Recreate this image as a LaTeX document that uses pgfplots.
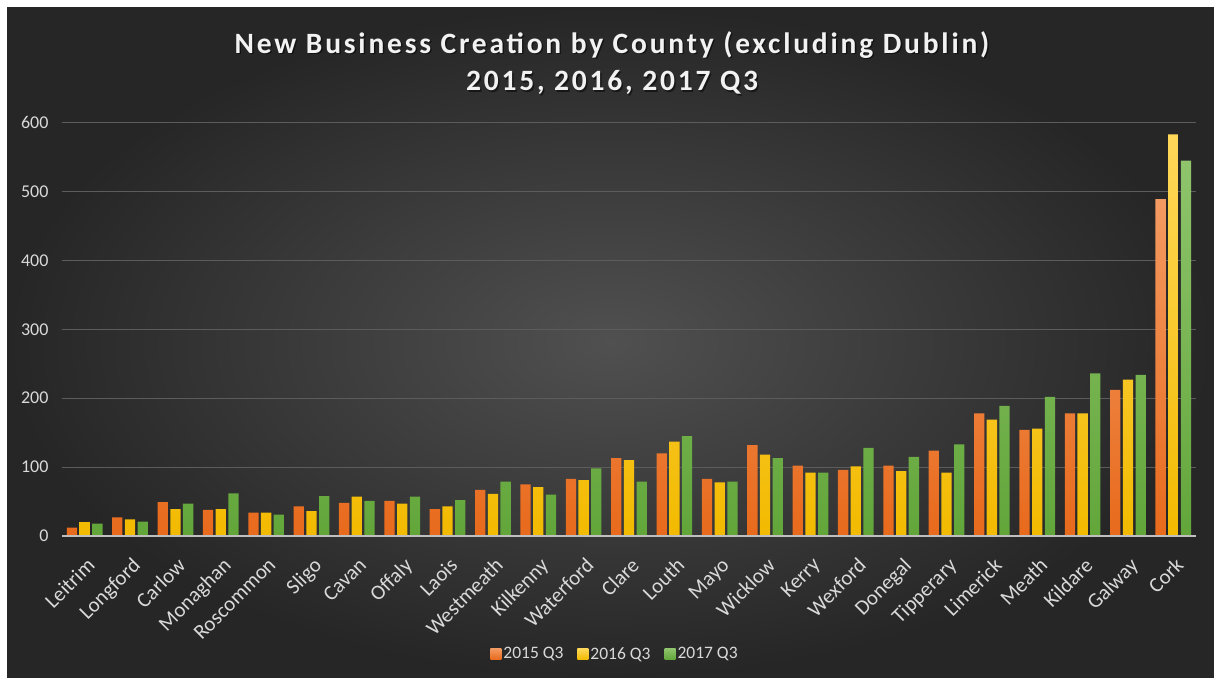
\documentclass[border=0pt]{standalone}
\usepackage{fontspec}
\setmainfont{Carlito}
\newfontfamily\titlefont[LetterSpace=9.5]{Carlito}
\usepackage{pgfplots}
\usepackage{pgfplotstable}
\pgfplotsset{compat=1.18}
\definecolor{bgin}{HTML}{505050}
\definecolor{bgout}{HTML}{262626}
\definecolor{oTop}{HTML}{F39A62}
\definecolor{oBot}{HTML}{E86A1C}
\definecolor{yTop}{HTML}{FFD85A}
\definecolor{yBot}{HTML}{F2BA00}
\definecolor{gTop}{HTML}{8FC46C}
\definecolor{gBot}{HTML}{62A63A}
\definecolor{tickc}{HTML}{D9D9D9}
\definecolor{gridc}{HTML}{5C5C5C}
\pgfplotstableread{
x a b c
0 12 20 18
1 27 24 21
2 49 39 47
3 38 39 62
4 34 34 31
5 43 36 58
6 48 57 51
7 51 47 57
8 39 43 52
9 67 61 79
10 75 71 60
11 83 81 98
12 113 110 79
13 120 137 145
14 83 78 79
15 132 118 113
16 102 92 92
17 96 101 128
18 102 94 115
19 124 92 133
20 178 169 189
21 154 156 202
22 178 178 236
23 212 227 234
24 489 583 545
}\datatable
\begin{document}
\begin{tikzpicture}
\fill[white] (0pt,0pt) rectangle (1214pt,-677pt);
\shade[inner color=bgin, outer color=bgout] (7pt,-8pt) rectangle (1214pt,-677pt);
\node[anchor=base, text=black, opacity=0.5, font=\fontsize{29.5}{34}\titlefont\bfseries] at (613.5pt,-54.8pt) {New Business Creation by County (excluding Dublin)};
\node[anchor=base, text=black, opacity=0.5, font=\fontsize{29.5}{34}\titlefont\bfseries] at (613.5pt,-92.2pt) {2015, 2016, 2017 Q3};
\node[anchor=base, text=white!95!black, font=\fontsize{29.5}{34}\titlefont\bfseries] at (612pt,-53.3pt) {New Business Creation by County (excluding Dublin)};
\node[anchor=base, text=white!95!black, font=\fontsize{29.5}{34}\titlefont\bfseries] at (612pt,-90.7pt) {2015, 2016, 2017 Q3};
\begin{axis}[
  at={(62pt,-536pt)}, anchor=south west,
  scale only axis, width=1134pt, height=413.4pt,
  xmin=-0.5, xmax=24.5, ymin=0, ymax=600,
  ybar=2.4pt, bar width=10.3pt,
  axis line style={draw=none},
  ytick={0,100,...,600},
  xmajorgrids=false, ymajorgrids=true,
  y grid style={draw=gridc, line width=1pt},
  major tick length=0pt,
  xtick=data,
  xticklabels={Leitrim,Longford,Carlow,Monaghan,Roscommon,Sligo,Cavan,Offaly,Laois,Westmeath,Kilkenny,Waterford,Clare,Louth,Mayo,Wicklow,Kerry,Wexford,Donegal,Tipperary,Limerick,Meath,Kildare,Galway,Cork},
  xticklabel style={xshift=1pt, yshift=-19pt, rotate=45, anchor=north east, inner sep=1pt, text=tickc, font=\fontsize{21}{23}\selectfont},
  yticklabel style={text=tickc, font=\fontsize{18}{20}\selectfont, xshift=-10pt},
  /pgf/number format/assume math mode=true,
  legend style={at={(553pt,-118pt)}, anchor=center, draw=none, fill=none, text=tickc, font=\fontsize{17.5}{20}\selectfont, legend columns=3, /tikz/every even column/.append style={column sep=12pt}},
  legend image code/.code={\fill[#1] (0pt,-5.5pt) rectangle (11pt,5.5pt);},
  clip=false,
]
\addplot[draw=none, top color=oTop, bottom color=oBot] table[x=x,y=a]{\datatable};
\addplot[draw=none, top color=yTop, bottom color=yBot] table[x=x,y=b]{\datatable};
\addplot[draw=none, top color=gTop, bottom color=gBot] table[x=x,y=c]{\datatable};
\legend{2015 Q3,2016 Q3,2017 Q3}
\draw[color=white!75!black, line width=2pt] (axis cs:-0.5,0) -- (axis cs:24.5,0);
\end{axis}
\end{tikzpicture}
\end{document}
